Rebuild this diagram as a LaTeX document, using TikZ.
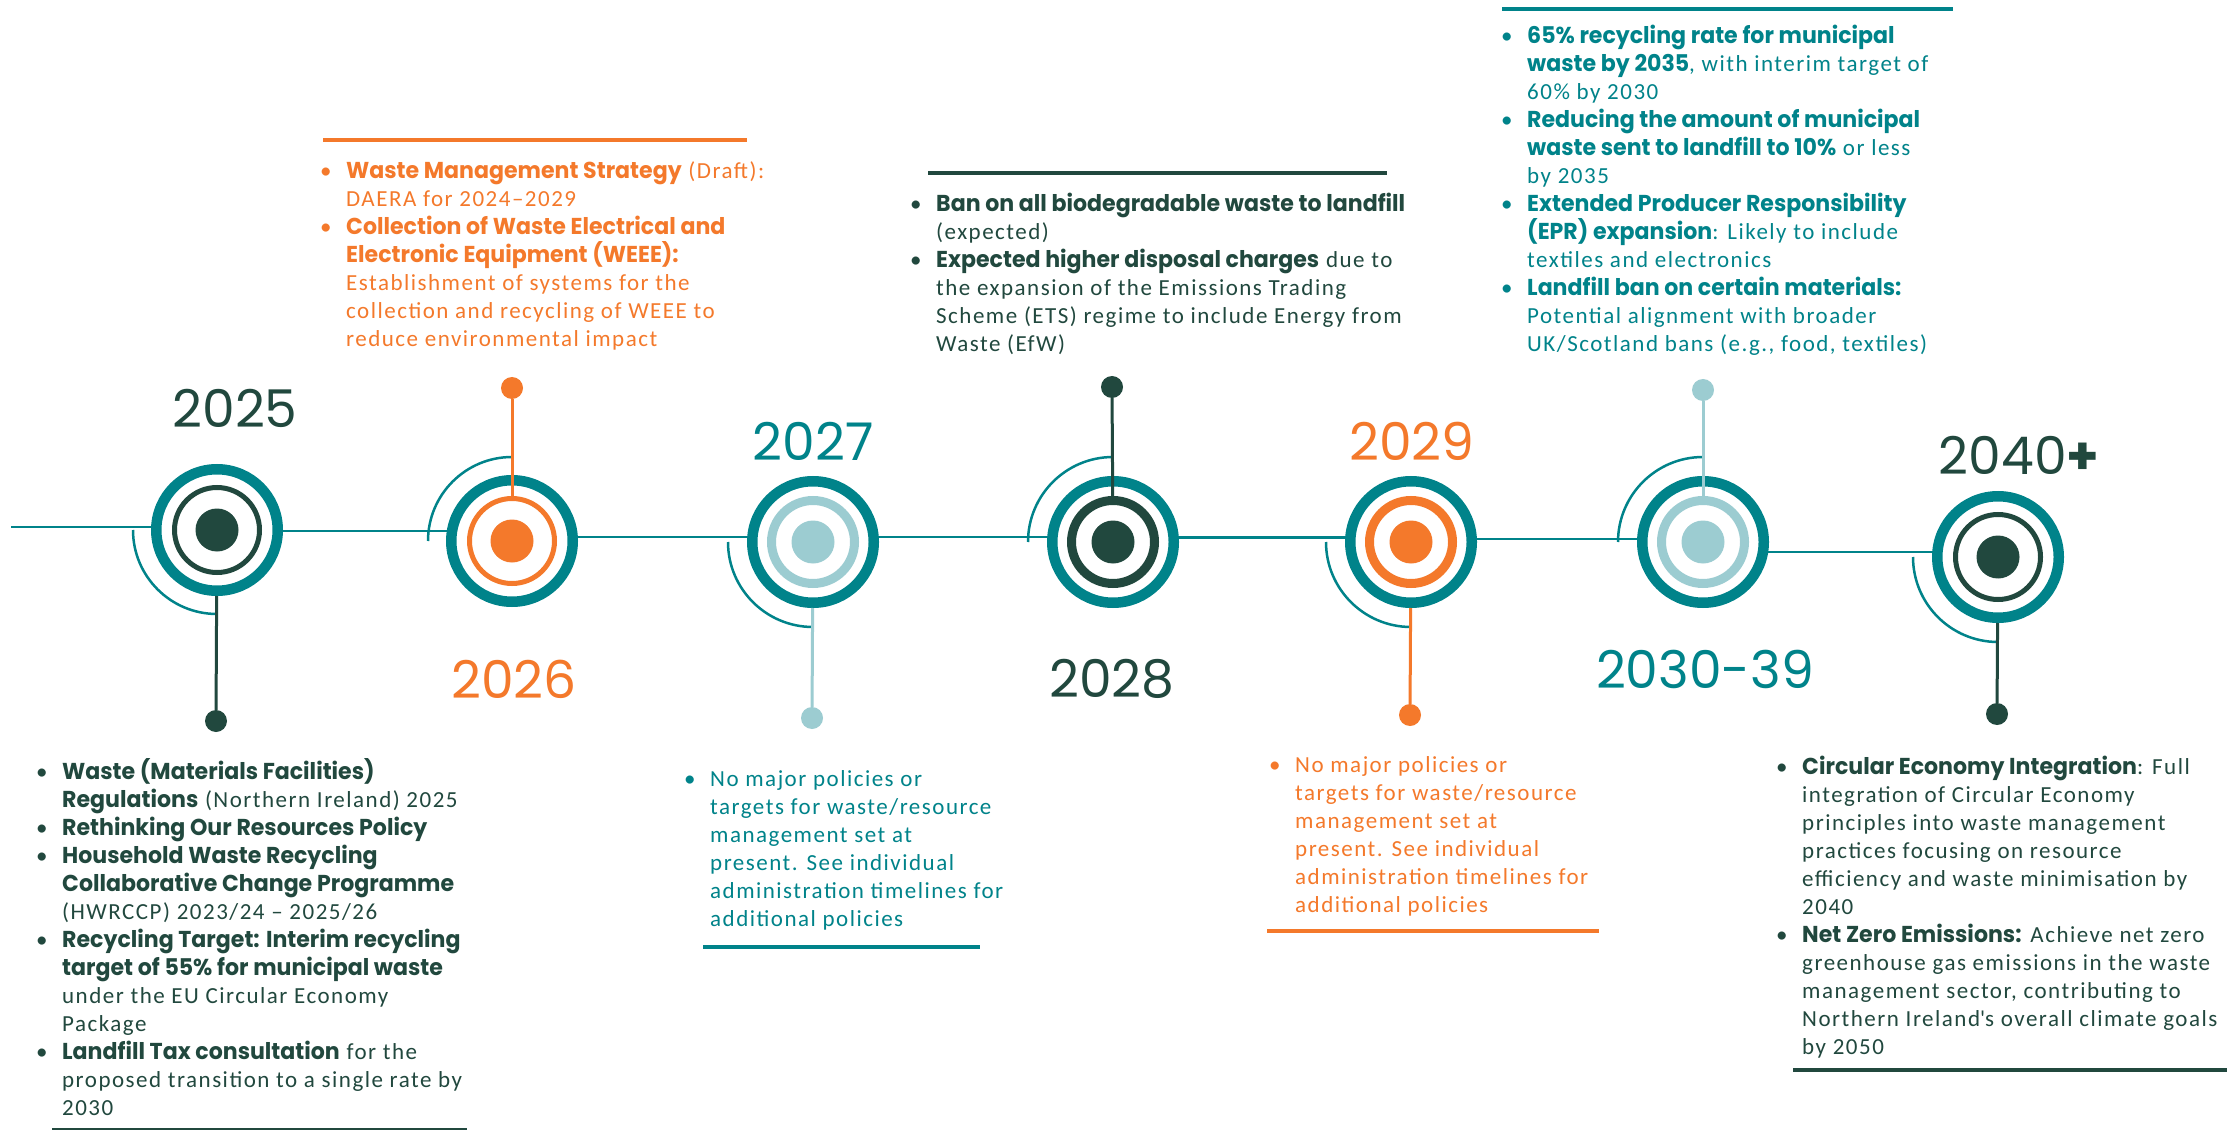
\documentclass[tikz,border=0pt]{standalone}
\usepackage{fontspec}
\setmainfont{Carlito}[LetterSpace=6.5]
\newfontfamily\headfont{Poppins}[FakeStretch=0.96]
\newfontfamily\yearfont{Poppins}
\usepackage{xcolor}
\usepackage{tikz}
\usetikzlibrary{calc}

\definecolor{wteal}{RGB}{0,131,138}
\definecolor{wdark}{RGB}{33,72,62}
\definecolor{worange}{RGB}{244,121,43}
\definecolor{wlight}{RGB}{156,204,209}

\newcommand{\kw}[1]{{\headfont\bfseries #1}}
\newcommand{\bul}{\makebox[26pt][l]{•}}
\newcommand{\hang}{\hspace*{26pt}}

\tikzset{
    tline/.style={draw=wteal,line width=2.7pt},
    arcline/.style={draw=wteal,line width=2.5pt},
    outring/.style={circle,draw=wteal,line width=10.5pt,fill=white,minimum size=121.5pt,inner sep=0pt},
    thickring/.style={circle,line width=9pt,minimum size=83pt,inner sep=0pt},
    thinring/.style={circle,line width=5pt,minimum size=85pt,inner sep=0pt},
    core/.style={circle,minimum size=43pt,inner sep=0pt},
    tipdot/.style={circle,minimum size=22pt,inner sep=0pt},
    stemline/.style={line width=3pt},
    rule/.style={line width=3.5pt},
    year/.style={inner sep=0pt,font=\yearfont\fontsize{52}{52}\selectfont},
    blurb/.style={anchor=north west,inner sep=0pt,align=left,font=\fontsize{23}{28}\selectfont}
}

\begin{document}
\begin{tikzpicture}[x=1pt,y=-1pt]
            %%% CANVAS %%%
            \fill[white] (0,0) rectangle (2227,1131);
            \useasboundingbox (0,0) rectangle (2227,1131);

            %%% COORDINATES %%%
            \draw (217,530) coordinate (c25);
            \draw (512,541) coordinate (c26);
            \draw (813,542) coordinate (c27);
            \draw (1113,542) coordinate (c28);
            \draw (1411,542) coordinate (c29);
            \draw (1703,542) coordinate (c30);
            \draw (1998,557) coordinate (c40);

            \draw (11,527) coordinate (t0);
            \draw (217,531) coordinate (t1);
            \draw (512,537) coordinate (t2);
            \draw (813,537) coordinate (t3);
            \draw (1113,537.5) coordinate (t4);
            \draw (1411,539) coordinate (t5);
            \draw (1703,552) coordinate (t6);

            %%% TIMELINE %%%
            \draw[tline] (t0) -- (t0 -| c25);
            \draw[tline] (t1) -- (t1 -| c26);
            \draw[tline] (t2) -- (t2 -| c27);
            \draw[tline] (t3) -- (t3 -| c28);
            \draw[tline] (t4) -- (t4 -| c29);
            \draw[tline] (t5) -- (t5 -| c30);
            \draw[tline] (t6) -- (t6 -| c40);

            %%% ARCS %%%
            \draw[arcline] ($(c25)+(-84,0)$) arc[start angle=180,end angle=90,radius=84];
            \draw[arcline] ($(c26)+(-84,0)$) arc[start angle=180,end angle=270,radius=84];
            \draw[arcline] ($(c27)+(-85,0)$) arc[start angle=180,end angle=90,radius=85];
            \draw[arcline] ($(c28)+(-85,0)$) arc[start angle=180,end angle=270,radius=85];
            \draw[arcline] ($(c29)+(-85,0)$) arc[start angle=180,end angle=90,radius=85];
            \draw[arcline] ($(c30)+(-85,0)$) arc[start angle=180,end angle=270,radius=85];
            \draw[arcline] ($(c40)+(-85,0)$) arc[start angle=180,end angle=90,radius=85];

            %%% MARKERS %%%
            \node[outring] (m25) at (c25) {};
            \node[thinring,draw=wdark] (i25) at (c25) {};
            \node[core,fill=wdark] (k25) at (c25) {};

            \node[outring] (m26) at (c26) {};
            \node[thinring,draw=worange] (i26) at (c26) {};
            \node[core,fill=worange] (k26) at (c26) {};

            \node[outring] (m27) at (c27) {};
            \node[thickring,draw=wlight] (i27) at (c27) {};
            \node[core,fill=wlight] (k27) at (c27) {};

            \node[outring] (m28) at (c28) {};
            \node[thickring,draw=wdark] (i28) at (c28) {};
            \node[core,fill=wdark] (k28) at (c28) {};

            \node[outring] (m29) at (c29) {};
            \node[thickring,draw=worange] (i29) at (c29) {};
            \node[core,fill=worange] (k29) at (c29) {};

            \node[outring] (m30) at (c30) {};
            \node[thickring,draw=wlight] (i30) at (c30) {};
            \node[core,fill=wlight] (k30) at (c30) {};

            \node[outring] (m40) at (c40) {};
            \node[thinring,draw=wdark] (i40) at (c40) {};
            \node[core,fill=wdark] (k40) at (c40) {};

            %%% STEMS %%%
            \node[tipdot,fill=wdark] (d25) at (216,721) {};
            \node[tipdot,fill=worange] (d26) at (512,388) {};
            \node[tipdot,fill=wlight] (d27) at (812,718) {};
            \node[tipdot,fill=wdark] (d28) at (1112,387) {};
            \node[tipdot,fill=worange] (d29) at (1410,715) {};
            \node[tipdot,fill=wlight] (d30) at (1703,390) {};
            \node[tipdot,fill=wdark] (d40) at (1997,714) {};

            \draw[stemline,wdark] (m25) -- (d25);
            \draw[stemline,worange] (i26) -- (d26);
            \draw[stemline,wlight] (m27) -- (d27);
            \draw[stemline,wdark] (i28) -- (d28);
            \draw[stemline,worange] (m29) -- (d29);
            \draw[stemline,wlight] (i30) -- (d30);
            \draw[stemline,wdark] (m40) -- (d40);

            %%% YEARS %%%
            \node[year,text=wdark] (y25) at (235,408) {2025};
            \node[year,text=worange] (y26) at (514,679) {2026};
            \node[year,text=wteal] (y27) at (813,441) {2027};
            \node[year,text=wdark] (y28) at (1112,679) {2028};
            \node[year,text=worange] (y29) at (1412,441) {2029};
            \node[year,text=wteal] (y30) at (1705,669) {2030-39};
            \node[year,text=wdark] (y40) at (2019,455) {2040{\bfseries +}};

            %%% RULES %%%
            \draw[rule,worange] (323,140) -- (747,140);
            \draw[rule,wdark] (928,173) -- (1387,173);
            \draw[rule,wteal] (1502,9) -- (1953,9);
            \draw[line width=2pt,wdark] (52,1129) -- (467,1129);
            \draw[rule,wteal] (703,947) -- (980,947);
            \draw[rule,worange] (1267,931) -- (1599,931);
            \draw[rule,wdark] (1793,1070) -- (2227,1070);

            %%% TEXTS %%%
            \node[blurb,text=wdark] (b25) at (36,758) {%
                \bul\kw{Waste (Materials Facilities)}\\
                \hang\kw{Regulations} (Northern Ireland) 2025\\
                \bul\kw{Rethinking Our Resources Policy}\\
                \bul\kw{Household Waste Recycling}\\
                \hang\kw{Collaborative Change Programme}\\
                \hang(HWRCCP) 2023/24 – 2025/26\\
                \bul\kw{Recycling Target: Interim recycling}\\
                \hang\kw{target of 55\% for municipal waste}\\
                \hang under the EU Circular Economy\\
                \hang Package\\
                \bul\kw{Landfill Tax consultation} for the\\
                \hang proposed transition to a single rate by\\
                \hang 2030};

            \node[blurb,text=worange] (b26) at (320,161) {%
                \bul\kw{Waste Management Strategy} (Draft):\\
                \hang DAERA for 2024–2029\\
                \bul\kw{Collection of Waste Electrical and}\\
                \hang\kw{Electronic Equipment (WEEE):}\\
                \hang Establishment of systems for the\\
                \hang collection and recycling of WEEE to\\
                \hang reduce environmental impact};

            \node[blurb,text=wteal] (b27) at (684,770) {%
                \bul No major policies or\\
                \hang targets for waste/resource\\
                \hang management set at\\
                \hang present. See individual\\
                \hang administration timelines for\\
                \hang additional policies};

            \node[blurb,text=wdark] (b28) at (910,193) {%
                \bul\kw{Ban on all biodegradable waste to landfill}\\
                \hang(expected)\\
                \bul\kw{Expected higher disposal charges} due to\\
                \hang the expansion of the Emissions Trading\\
                \hang Scheme (ETS) regime to include Energy from\\
                \hang Waste (EfW)};

            \node[blurb,text=worange] (b29) at (1269,756) {%
                \bul No major policies or\\
                \hang targets for waste/resource\\
                \hang management set at\\
                \hang present. See individual\\
                \hang administration timelines for\\
                \hang additional policies};

            \node[blurb,text=wteal] (b30) at (1501,25) {%
                \bul\kw{65\% recycling rate for municipal}\\
                \hang\kw{waste by 2035}, with interim target of\\
                \hang 60\% by 2030\\
                \bul\kw{Reducing the amount of municipal}\\
                \hang\kw{waste sent to landfill to 10\%} or less\\
                \hang by 2035\\
                \bul\kw{Extended Producer Responsibility}\\
                \hang\kw{(EPR) expansion}: Likely to include\\
                \hang textiles and electronics\\
                \bul\kw{Landfill ban on certain materials:}\\
                \hang Potential alignment with broader\\
                \hang UK/Scotland bans (e.g., food, textiles)};

            \node[blurb,text=wdark] (b40) at (1776,756) {%
                \bul\kw{Circular Economy Integration}: Full\\
                \hang integration of Circular Economy\\
                \hang principles into waste management\\
                \hang practices focusing on resource\\
                \hang efficiency and waste minimisation by\\
                \hang 2040\\
                \bul\kw{Net Zero Emissions:} Achieve net zero\\
                \hang greenhouse gas emissions in the waste\\
                \hang management sector, contributing to\\
                \hang Northern Ireland\textquotesingle s overall climate goals\\
                \hang by 2050};
        \end{tikzpicture}
\end{document}
